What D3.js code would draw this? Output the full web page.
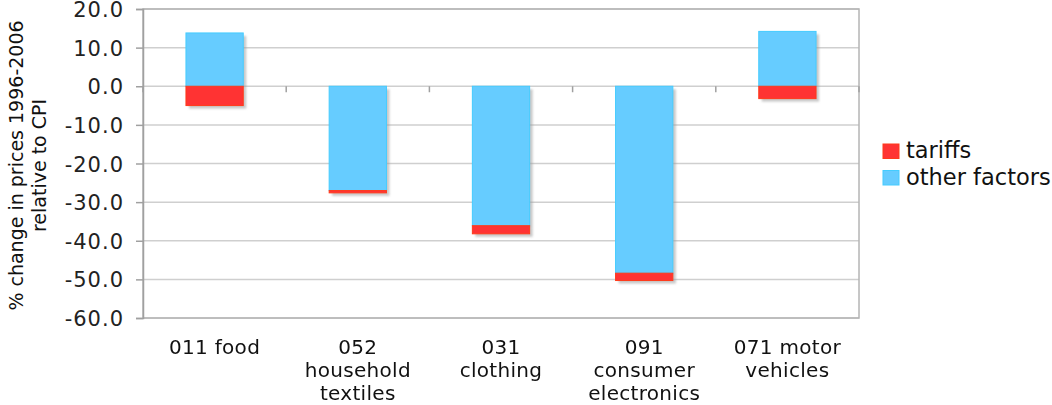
<!DOCTYPE html>
<html>
<head>
<meta charset="utf-8">
<script src="https://cdn.jsdelivr.net/npm/d3@7"></script>
<style>
  html, body { margin: 0; padding: 0; background: #fff; }
  svg { display: block; font-family: "DejaVu Sans", Verdana, sans-serif; }
</style>
</head>
<body>
<svg id="chart" width="1052" height="405"></svg>
<script>
// Price change decomposition by COICOP category, 1996-2006
const categories = ["011 food", "052 household textiles", "031 clothing", "091 consumer electronics", "071 motor vehicles"];
const categoryLines = [["011 food"], ["052", "household", "textiles"], ["031", "clothing"], ["091", "consumer", "electronics"], ["071 motor", "vehicles"]];
const otherFactors = [13.8, -27.0, -36.1, -48.4, 14.2];
const tariffs = [-5.0, -0.6, -2.1, -1.9, -3.2];
const seriesKeys = ["other", "tariffs"];
const legendItems = [
  { key: "tariffs", label: "tariffs" },
  { key: "other", label: "other factors" }
];
const yTicks = [20, 10, 0, -10, -20, -30, -40, -50, -60];

const fills = { other: "#66ccff", tariffs: "#ff3333" };
const strokes = { other: "#44ccff", tariffs: "#ff3a1a" };

const svg = d3.select("#chart");
const plotL = 143, plotR = 859, plotT = 9, plotB = 318;

const rows = categories.map((c, i) => ({ cat: c, other: otherFactors[i], tariffs: tariffs[i] }));

const x = d3.scaleBand().domain(categories).range([plotL, plotR]).paddingInner(0.6).paddingOuter(0.3);
const y = d3.scaleLinear().domain([-60, 20]).range([plotB, plotT]);

const stacked = d3.stack().keys(seriesKeys).offset(d3.stackOffsetDiverging)(rows);

// shadow filter
const defs = svg.append("defs");
defs.append("filter").attr("id", "soft").attr("x", "-20%").attr("y", "-20%").attr("width", "140%").attr("height", "140%")
  .append("feGaussianBlur").attr("stdDeviation", 1.2);

// gridlines
svg.append("g").selectAll("line").data(yTicks).join("line")
  .attr("x1", plotL).attr("x2", plotR)
  .attr("y1", d => y(d)).attr("y2", d => y(d))
  .attr("stroke", "#cfcfcf").attr("stroke-width", 1.5);

// frame
svg.append("rect").attr("x", plotL).attr("y", plotT).attr("width", plotR - plotL).attr("height", plotB - plotT)
  .attr("fill", "none").attr("stroke", "#b4b4b4").attr("stroke-width", 1.5);

// left axis (plain hyphen for negatives)
const yAxis = d3.axisLeft(y).tickValues(yTicks).tickSize(7).tickPadding(12).tickFormat(d => d.toFixed(1));
const gy = svg.append("g").attr("transform", `translate(${plotL},0)`).call(yAxis);
gy.select(".domain").attr("stroke", "#a0a0a0").attr("stroke-width", 1.5);
gy.selectAll(".tick line").attr("stroke", "#a0a0a0").attr("stroke-width", 1.5);
gy.selectAll(".tick text").attr("font-size", 21).attr("letter-spacing", 1).attr("fill", "#222")
  .attr("font-family", "DejaVu Sans, sans-serif").attr("dy", "0.36em");

// category ticks below the zero line
const step = x.step();
const boundaries = d3.range(categories.length + 1).map(i => plotL + i * step);
svg.append("g").selectAll("line").data(boundaries).join("line")
  .attr("x1", d => d).attr("x2", d => d)
  .attr("y1", y(0)).attr("y2", y(0) + 6)
  .attr("stroke", "#a0a0a0").attr("stroke-width", 1.5);

// bar shadows
const segs = stacked.flatMap(s => s.map(d => ({ key: s.key, cat: d.data.cat, y0: d[0], y1: d[1] })))
  .filter(d => d.y0 !== d.y1);

svg.append("g").attr("filter", "url(#soft)").selectAll("rect").data(segs).join("rect")
  .attr("x", d => x(d.cat) + 3)
  .attr("y", d => y(Math.max(d.y0, d.y1)) + 3)
  .attr("width", x.bandwidth())
  .attr("height", d => Math.abs(y(d.y0) - y(d.y1)))
  .attr("fill", "#9a9a9a").attr("opacity", 0.55);

// bars
svg.append("g").selectAll("rect").data(segs).join("rect")
  .attr("x", d => x(d.cat))
  .attr("y", d => y(Math.max(d.y0, d.y1)))
  .attr("width", x.bandwidth())
  .attr("height", d => Math.abs(y(d.y0) - y(d.y1)))
  .attr("fill", d => fills[d.key])
  .attr("stroke", d => strokes[d.key]).attr("stroke-width", 1);

// category labels
const xl = svg.append("g").attr("font-size", 20).attr("letter-spacing", 0.3).attr("fill", "#111").attr("text-anchor", "middle");
categories.forEach((c, i) => {
  const cx = x(c) + x.bandwidth() / 2;
  const t = xl.append("text").attr("x", cx).attr("y", 354);
  categoryLines[i].forEach((ln, j) => {
    t.append("tspan").attr("x", cx).attr("dy", j === 0 ? 0 : 23).text(ln);
  });
});

// y axis title
const cy = (plotT + plotB) / 2 + 2;
const yt = svg.append("text").attr("transform", `translate(23,${cy}) rotate(-90)`)
  .attr("text-anchor", "middle").attr("font-size", 19).attr("fill", "#111");
yt.append("tspan").attr("x", 0).attr("y", 0).text("% change in prices 1996-2006");
yt.append("tspan").attr("x", 0).attr("y", 23).text("relative to CPI");

// legend
const lg = svg.append("g").selectAll("g").data(legendItems).join("g")
  .attr("transform", (d, i) => `translate(883,${144 + i * 26.5})`);
lg.append("rect").attr("width", 16).attr("height", 14.5)
  .attr("fill", d => fills[d.key]).attr("stroke", d => strokes[d.key]).attr("stroke-width", 1);
lg.append("text").attr("x", 23).attr("y", 14).attr("font-size", 22.5).attr("fill", "#111").text(d => d.label);
</script>
</body>
</html>
